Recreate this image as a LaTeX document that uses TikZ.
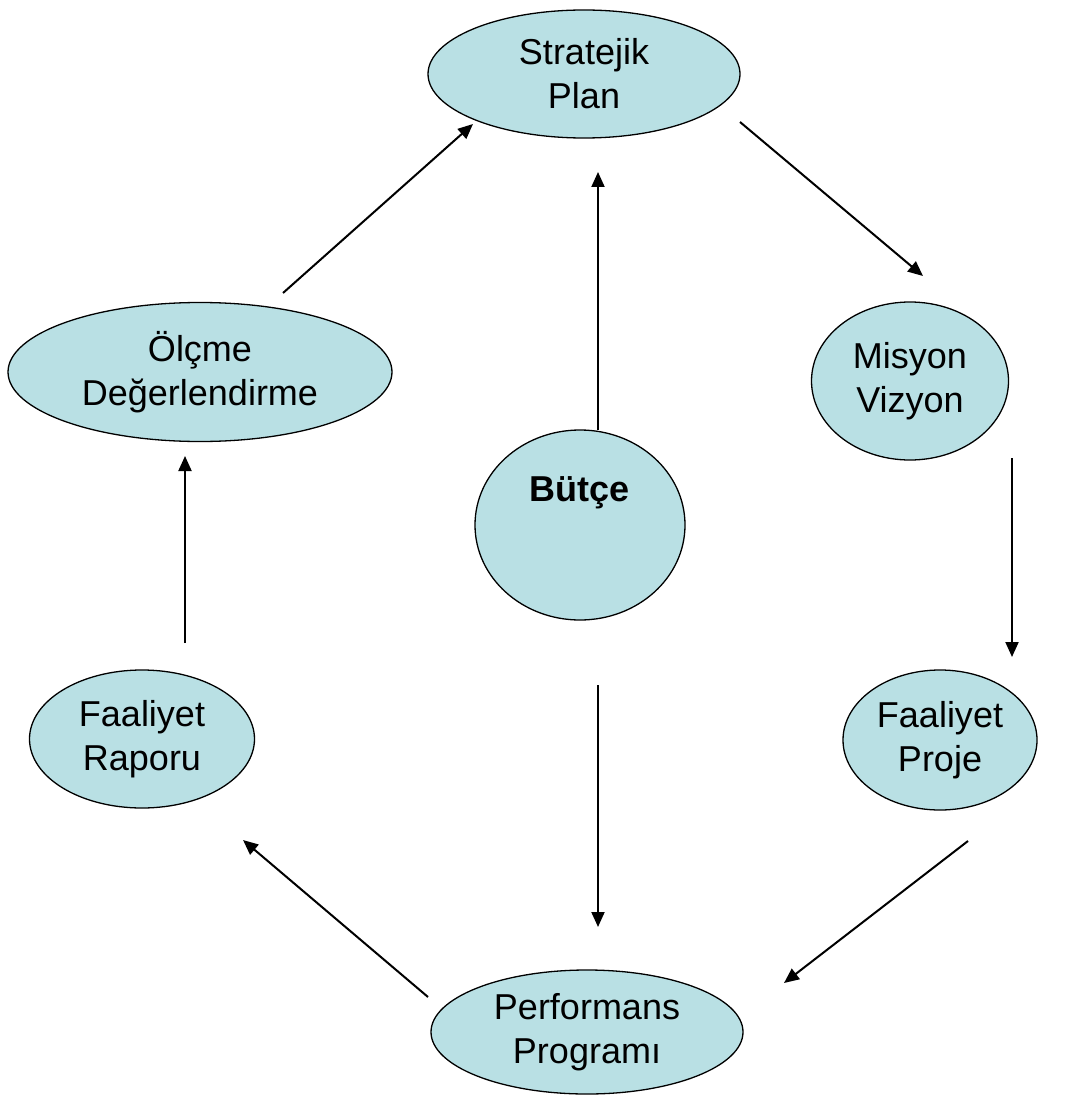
\documentclass[tikz,border=0pt]{standalone}
\usepackage{fontspec}
\setmainfont{Liberation Sans}
\usetikzlibrary{shapes.geometric,arrows.meta}
\definecolor{bubfill}{HTML}{B9E0E4}
\begin{document}
\begin{tikzpicture}[x=1pt,y=-1pt,
  bub/.style={ellipse,draw=black,line width=1.3pt,fill=bubfill,inner sep=0pt,align=center,
    font=\fontsize{36}{44}\selectfont},
  conn/.style={line width=2pt,-{Triangle[length=15pt,width=13pt]}}]
\useasboundingbox (0,0) rectangle (1070,1102);
\node[bub,minimum width=312pt,minimum height=128pt] (sp) at (584,74) {Stratejik\\Plan};
\node[bub,minimum width=197pt,minimum height=158pt] (mv) at (910,381) {Misyon\\Vizyon};
\node[bub,minimum width=194pt,minimum height=140pt] (fp) at (940,740) {Faaliyet\\Proje};
\node[bub,minimum width=312pt,minimum height=124pt] (pp) at (587,1032) {Performans\\Programı};
\node[bub,minimum width=225pt,minimum height=138pt] (fr) at (142,739) {Faaliyet\\Raporu};
\node[bub,minimum width=384pt,minimum height=139pt] (od) at (200,372) {Ölçme\\Değerlendirme};
\node[bub,minimum width=210pt,minimum height=190pt] (bu) at (580,525) {};
\node[font=\fontsize{36}{44}\selectfont\bfseries] (bt) at (580,493) {Bütçe};
% arrow end points
\coordinate (a1s) at (283,293); \coordinate (a1e) at (473,124);
\coordinate (a2s) at (740,122); \coordinate (a2e) at (923,276);
\coordinate (a3s) at (1012,458); \coordinate (a3e) at (1012,657);
\coordinate (a4s) at (968,841); \coordinate (a4e) at (784,983);
\coordinate (a5s) at (428,997); \coordinate (a5e) at (243,840);
\coordinate (a6s) at (185,643); \coordinate (a6e) at (185,456);
\coordinate (a7s) at (598,430); \coordinate (a7e) at (598,172);
\coordinate (a8s) at (598,685); \coordinate (a8e) at (598,927);
\draw[conn] (a1s) -- (a1e);
\draw[conn] (a2s) -- (a2e);
\draw[conn] (a3s) -- (a3e);
\draw[conn] (a4s) -- (a4e);
\draw[conn] (a5s) -- (a5e);
\draw[conn] (a6s) -- (a6e);
\draw[conn] (a7s) -- (a7e);
\draw[conn] (a8s) -- (a8e);
\end{tikzpicture}
\end{document}
